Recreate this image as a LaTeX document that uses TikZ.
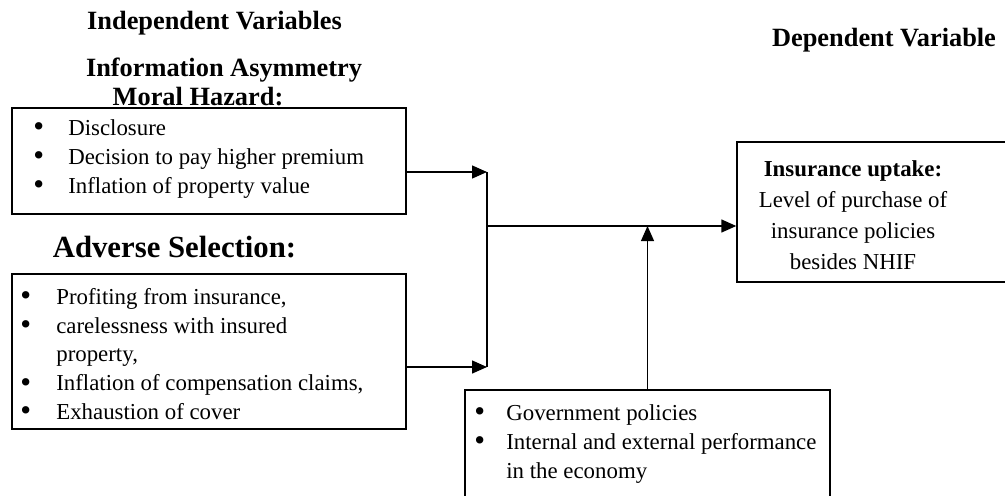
\documentclass[tikz,border=0pt]{standalone}
\usepackage{fontspec}
\usepackage{graphicx}
\setmainfont{Liberation Serif}
\usetikzlibrary{arrows.meta,positioning}
\newcommand{\blt}[1]{\makebox[#1][l]{\raisebox{-0.12ex}{\scalebox{1.35}{\textbullet}}}}

\begin{document}
\begin{tikzpicture}[
  box/.style={draw,line width=0.8pt,inner sep=0pt},
  title/.style={font=\fontsize{15}{18}\selectfont\bfseries},
  items/.style={font=\fontsize{13}{16.4}\selectfont,align=left,inner sep=0pt,anchor=west},
  arr/.style={line width=0.8pt,-{Triangle[length=0.3cm,width=0.26cm]}}
]
  \clip (0,0) rectangle (20.1,-9.9);

  % Headings
  \node[title] (hind) at (4.29,-0.46) {Independent Variables};
  \node[title] (hdep) at (17.68,-0.8) {Dependent Variable};
  \node[title] (hasym) at (4.48,-1.4) {Information Asymmetry};
  \node[title] (hmoral) at (3.96,-1.94) {Moral Hazard:};
  \node[font=\fontsize{17.5}{20}\selectfont\bfseries] (hadv) at (3.49,-4.94) {Adverse Selection:};

  % Moral hazard box
  \node[box,minimum width=7.88cm,minimum height=2.12cm] (b1) at (4.18,-3.22) {};
  \node[items] (t1) at (0.66,-3.18) {\blt{0.7cm}Disclosure\\
    \blt{0.7cm}Decision to pay higher premium\\
    \blt{0.7cm}Inflation of property value};

  % Adverse selection box
  \node[box,minimum width=7.88cm,minimum height=3.1cm] (b2) at (4.18,-7.03) {};
  \node[items] (t2) at (0.4,-7.09) {\blt{0.72cm}Profiting from insurance,\\
    \blt{0.72cm}carelessness with insured\\
    \hspace*{0.72cm}property,\\
    \blt{0.72cm}Inflation of compensation claims,\\
    \blt{0.72cm}Exhaustion of cover};

  % Dependent variable box
  \node[box,minimum width=5.56cm,minimum height=2.8cm] (b3) at (17.52,-4.24) {};
  \node[font=\fontsize{13}{17.6}\selectfont,align=center] (t3) at (17.06,-4.3)
    {\textbf{Insurance uptake:}\\Level of purchase of\\insurance policies\\besides NHIF};

  % Intervening variables box
  \node[box,minimum width=7.3cm,minimum height=2.3cm] (b4) at (12.95,-8.95) {};
  \node[items] (t4) at (9.48,-8.88) {\blt{0.64cm}Government policies\\
    \blt{0.64cm}Internal and external performance\\
    \hspace*{0.64cm}in the economy};

  % Connectors
  \coordinate (j1) at (9.74,-3.44);
  \coordinate (j2) at (9.74,-7.34);
  \coordinate (jm) at (9.74,-4.52);
  \coordinate (mod) at (12.95,-4.52);
  \draw[arr] (b1.east |- j1) -- (j1);
  \draw[arr] (b2.east |- j2) -- (j2);
  \draw[line width=0.8pt] (j1) -- (j2);
  \draw[arr] (jm) -- (b3.west |- jm);
  \draw[arr,line width=0.6pt] (b4.north) -- (mod);
\end{tikzpicture}
\end{document}
